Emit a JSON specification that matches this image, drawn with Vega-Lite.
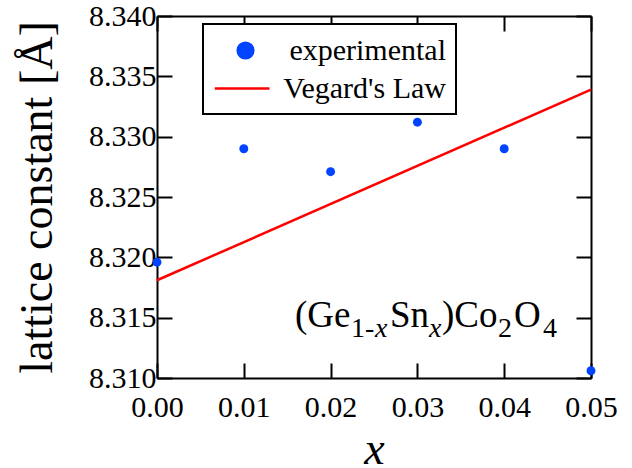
{
  "$schema": "https://vega.github.io/schema/vega-lite/v6.json",
  "width": 434,
  "height": 362,
  "autosize": {"type": "none"},
  "padding": {"left": 157, "top": 16, "right": 41, "bottom": 90},
  "background": "white",
  "config": {
    "font": "Liberation Serif",
    "view": {"stroke": null},
    "axis": {
      "grid": false,
      "domainColor": "black",
      "domainWidth": 2,
      "tickColor": "black",
      "tickWidth": 2,
      "tickSize": -15,
      "labelFont": "Liberation Serif",
      "labelFontSize": 30,
      "labelColor": "black",
      "labelFlush": false,
      "labelOverlap": false,
      "titleFont": "Liberation Serif",
      "titleFontSize": 46,
      "titleFontWeight": "normal",
      "titleColor": "black"
    }
  },
  "datasets": {
    "exp": [
      {"x": 0.00, "y": 8.3196, "series": "experimental"},
      {"x": 0.01, "y": 8.3290, "series": "experimental"},
      {"x": 0.02, "y": 8.3271, "series": "experimental"},
      {"x": 0.03, "y": 8.3312, "series": "experimental"},
      {"x": 0.04, "y": 8.3290, "series": "experimental"},
      {"x": 0.05, "y": 8.3106, "series": "experimental"}
    ],
    "vegard": [
      {"x": 0.00, "y": 8.3181, "series": "Vegard's Law"},
      {"x": 0.05, "y": 8.3339, "series": "Vegard's Law"}
    ],
    "main": [
      {"x": 0.015899, "y": 8.31422, "t": "(Ge"},
      {"x": 0.026843, "y": 8.31422, "t": "Sn"},
      {"x": 0.032834, "y": 8.31422, "t": ")Co"},
      {"x": 0.041129, "y": 8.31422, "t": "O"}
    ],
    "sub": [
      {"x": 0.02235, "y": 8.31422, "t": "1-"},
      {"x": 0.039286, "y": 8.31422, "t": "2"},
      {"x": 0.04447, "y": 8.31422, "t": "4"}
    ],
    "subi": [
      {"x": 0.025115, "y": 8.31422, "t": "x"},
      {"x": 0.031336, "y": 8.31422, "t": "x"}
    ]
  },
  "layer": [
    {
      "data": {"name": "vegard"},
      "mark": {"type": "line", "strokeWidth": 2.5},
      "encoding": {
        "x": {
          "field": "x", "type": "quantitative",
          "scale": {"domain": [0, 0.05], "nice": false, "zero": false},
          "axis": {
            "orient": "bottom",
            "values": [0, 0.01, 0.02, 0.03, 0.04, 0.05],
            "format": ".2f",
            "labelPadding": 29,
            "labelFlush": false,
            "tickSize": -15,
            "title": "x",
            "titleFontStyle": "italic",
            "titlePadding": 5
          }
        },
        "y": {
          "field": "y", "type": "quantitative",
          "scale": {"domain": [8.31, 8.34], "nice": false, "zero": false},
          "axis": {
            "orient": "left",
            "values": [8.31, 8.315, 8.32, 8.325, 8.33, 8.335, 8.34],
            "format": ".3f",
            "labelPadding": 16,
            "labelFlush": false,
            "tickSize": -15,
            "title": "lattice constant [Å]",
            "titlePadding": 27
          }
        },
        "color": {
          "field": "series", "type": "nominal",
          "scale": {"domain": ["experimental", "Vegard's Law"], "range": ["#0044ff", "#ff0000"]},
          "legend": {
            "orient": "none",
            "legendX": 46,
            "legendY": 8,
            "title": null,
            "fillColor": "white",
            "strokeColor": "black",
            "padding": 10,
            "rowPadding": 6,
            "symbolSize": 900,
            "symbolOffset": 16,
            "labelFont": "Liberation Serif",
            "labelFontSize": 30,
            "labelColor": "black",
            "labelAlign": "right",
            "labelOffset": 184,
            "labelLimit": 400,
            "encode": {
              "legend": {"update": {"strokeWidth": {"value": 2}}},
              "symbols": {
                "update": {
                  "shape": {"signal": "datum.value === 'experimental' ? 'circle' : 'M-2.05,0H1.6'"},
                  "size": {"signal": "datum.value === 'experimental' ? 246 : 900"},
                  "fill": {"signal": "datum.value === 'experimental' ? '#0044ff' : 'transparent'"},
                  "stroke": {"signal": "datum.value === 'experimental' ? 'transparent' : '#ff0000'"},
                  "strokeWidth": {"value": 2.5},
                  "opacity": {"value": 1}
                }
              }
            }
          }
        }
      }
    },
    {
      "data": {"name": "exp"},
      "mark": {"type": "point", "filled": true, "size": 80, "opacity": 1, "clip": false},
      "encoding": {
        "x": {"field": "x", "type": "quantitative", "axis": null},
        "y": {"field": "y", "type": "quantitative", "axis": null},
        "color": {"field": "series", "type": "nominal"}
      }
    },
    {
      "data": {"name": "exp"},
      "mark": {"type": "point", "opacity": 0},
      "encoding": {
        "x": {
          "field": "x", "type": "quantitative",
          "axis": {"orient": "top", "values": [0, 0.01, 0.02, 0.03, 0.04, 0.05], "labels": false, "tickSize": -15, "title": null}
        },
        "y": {
          "field": "y", "type": "quantitative",
          "axis": {"orient": "right", "values": [8.31, 8.315, 8.32, 8.325, 8.33, 8.335, 8.34], "labels": false, "tickSize": -15, "title": null}
        }
      }
    },
    {
      "data": {"name": "main"},
      "mark": {"type": "text", "font": "Liberation Serif", "fontSize": 37, "align": "left", "baseline": "alphabetic", "color": "black"},
      "encoding": {
        "x": {"field": "x", "type": "quantitative", "axis": null},
        "y": {"field": "y", "type": "quantitative", "axis": null},
        "text": {"field": "t"}
      }
    },
    {
      "data": {"name": "sub"},
      "mark": {"type": "text", "font": "Liberation Serif", "fontSize": 28, "align": "left", "baseline": "alphabetic", "dy": 10, "color": "black"},
      "encoding": {
        "x": {"field": "x", "type": "quantitative", "axis": null},
        "y": {"field": "y", "type": "quantitative", "axis": null},
        "text": {"field": "t"}
      }
    },
    {
      "data": {"name": "subi"},
      "mark": {"type": "text", "font": "Liberation Serif", "fontSize": 28, "fontStyle": "italic", "align": "left", "baseline": "alphabetic", "dy": 10, "color": "black"},
      "encoding": {
        "x": {"field": "x", "type": "quantitative", "axis": null},
        "y": {"field": "y", "type": "quantitative", "axis": null},
        "text": {"field": "t"}
      }
    }
  ],
  "resolve": {"axis": {"x": "independent", "y": "independent"}}
}
